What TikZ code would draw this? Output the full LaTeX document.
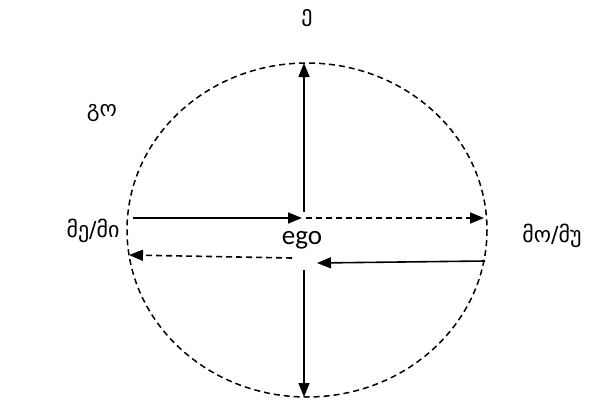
\documentclass[tikz,border=0pt]{standalone}
\usepackage{fontspec}
\setmainfont{Carlito}
\newfontfamily\geo{DejaVu Sans}
\usetikzlibrary{arrows.meta}
\tikzset{
  arr/.style={line width=1.6pt,-{Triangle[length=14pt,width=11pt]}},
  darr/.style={arr,dash pattern=on 6pt off 4pt},
  lbl/.style={font=\geo\fontsize{22}{26}\selectfont,inner sep=0pt}
}
\begin{document}
\begin{tikzpicture}[x=1pt,y=-1pt]
\useasboundingbox (0,0) rectangle (592,405);
\draw[line width=1.5pt,dash pattern=on 6pt off 4pt] (307,230) ellipse [x radius=180, y radius=167];
\coordinate (upS) at (304,212);
\coordinate (upE) at (304,63);
\coordinate (dnS) at (304,270);
\coordinate (dnE) at (304,397);
\coordinate (rS) at (133,218);
\coordinate (rE) at (302,218);
\coordinate (drS) at (306,218);
\coordinate (drE) at (484,218);
\coordinate (dlS) at (292,258);
\coordinate (dlE) at (129,255);
\coordinate (lS) at (485,261);
\coordinate (lE) at (317,263);
\draw[arr] (upS) -- (upE);
\draw[arr] (dnS) -- (dnE);
\draw[arr] (rS) -- (rE);
\draw[darr] (drS) -- (drE);
\draw[darr] (dlS) -- (dlE);
\draw[arr] (lS) -- (lE);
\node[inner sep=0pt,font=\fontsize{27}{30}\selectfont] (ego) at (302,240) {ego};
\node[lbl] (e) at (307,18) {ე};
\node[lbl] (go) at (102,113) {გო};
\node[lbl] (mi) at (93,231) {მე/მი};
\node[lbl] (mu) at (552,236) {მო/მუ};
\end{tikzpicture}
\end{document}
